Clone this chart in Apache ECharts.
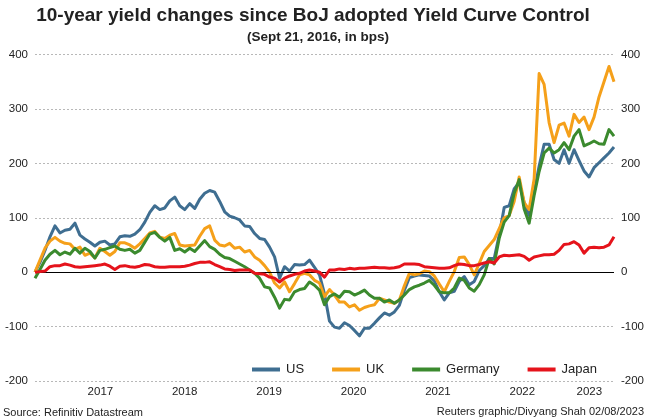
<!DOCTYPE html>
<html>
<head>
<meta charset="utf-8">
<script src="https://cdn.jsdelivr.net/npm/echarts@6/dist/echarts.min.js"></script>
<style>
html,body{margin:0;padding:0;background:#fff;}
#chart{width:649px;height:420px;}
</style>
</head>
<body>
<div id="chart"></div>
<script>
// ---- data (change in bps since Sept 21, 2016), evenly spaced from 2016-09-21 to 2023-08-02 ----
const startDate = '2016-09-21';
const endDate = '2023-08-02';

const us = [0,18,40,65,85,72,77,79,90,68,
  61,55,48,55,57,50,52,65,67,66,
  70,78,92,110,122,115,118,131,138,122,
  115,126,117,134,145,150,147,130,111,103,
  100,96,85,84,71,62,60,46,28,-11,
  10,2,14,13,14,22,9,-5,-40,-90,
  -101,-103,-93,-98,-107,-117,-103,-103,-94,-84,
  -75,-79,-73,-61,-33,-10,-7,-5,-6,-7,
  -16,-36,-51,-38,-35,-17,-8,-23,-17,3,
  12,25,25,68,119,122,153,165,128,104,
  147,195,235,235,207,200,225,200,225,205,
  186,175,192,201,210,219,230];

const uk = [0,22,44,57,64,57,53,52,42,46,
  31,35,26,44,38,31,38,54,54,50,
  44,52,62,72,75,64,62,68,71,50,
  48,49,50,66,80,85,59,50,48,53,
  44,46,37,40,28,22,12,0,-20,-29,
  -18,-36,-21,-5,-2,-5,-15,-20,-45,-32,
  -42,-55,-55,-64,-60,-70,-65,-62,-60,-48,
  -51,-55,-57,-51,-25,-2,-5,-3,2,1,
  -7,-22,-36,-17,1,27,28,14,-5,16,
  38,49,60,80,100,104,130,175,128,115,
  171,365,345,275,238,270,274,250,290,275,
  285,262,285,322,350,378,350];

const germany = [-11,5,22,33,40,32,37,33,44,35,
  44,38,26,40,42,45,48,42,40,42,
  35,40,55,70,73,64,57,64,40,43,
  37,44,38,48,58,47,42,33,27,25,
  20,15,10,4,-2,-11,-27,-29,-46,-66,
  -50,-51,-36,-32,-30,-18,-24,-33,-60,-45,
  -40,-46,-35,-36,-42,-38,-33,-42,-48,-48,
  -55,-51,-57,-51,-42,-32,-27,-24,-20,-15,
  -24,-36,-38,-38,-29,-11,-15,-29,-35,-23,
  -5,25,15,62,92,104,145,170,116,90,
  141,185,219,228,219,225,238,225,250,262,
  232,236,241,236,235,262,250];

const japan = [0,1,2,10,12,12,15,13,10,9,
  10,11,12,13,15,11,5,11,12,10,
  9,11,14,13,10,9,9,10,10,10,
  11,13,16,18,18,19,14,10,6,5,
  3,4,4,4,-2,-3,-4,-9,-11,-18,
  -11,-7,-4,-2,2,4,2,0,-9,4,
  4,6,5,7,6,7,7,8,9,8,
  8,7,8,10,15,15,15,14,10,9,
  8,7,7,8,12,15,14,12,12,14,
  17,19,17,28,31,30,31,32,29,22,
  28,30,32,32,33,40,51,52,56,50,
  35,45,46,45,46,50,65];

// x-axis year labels and where they sit (centre of each year's span)
const yearLabels = ['2017','2018','2019','2020','2021','2022','2023'];
const yearLabelDates = ['2017-07-01','2018-07-01','2019-07-01','2020-07-01','2021-07-01','2022-07-01','2023-04-17'];
const yTicks = {min: -200, max: 400, step: 100};

const seriesNames = ['US','UK','Germany','Japan'];
const seriesColors = ['#3f6e91','#f5a01a','#3b8a2e','#e5131b'];

// ---- build ----
const t0 = Date.parse(startDate + 'T00:00:00Z');
const t1 = Date.parse(endDate + 'T00:00:00Z');
const n = us.length;
const times = us.map((_, i) => t0 + (t1 - t0) * i / (n - 1));
const pair = arr => arr.map((v, i) => [times[i], v]);
const labelTimes = yearLabelDates.map(d => Date.parse(d + 'T00:00:00Z'));

const chart = echarts.init(document.getElementById('chart'), null, {renderer: 'canvas'});
const FONT = 'Liberation Sans, Arial, sans-serif';

const allData = [us, uk, germany, japan];
const series = allData.map((arr, k) => ({
  name: seriesNames[k],
  type: 'line',
  data: pair(arr),
  showSymbol: false,
  symbol: 'none',
  lineStyle: {width: 3, color: seriesColors[k], join: 'round'},
  itemStyle: {color: seriesColors[k]},
  z: 2 + k,
  silent: true,
  animation: false
}));
series[0].markLine = {
  silent: true, symbol: 'none', animation: false,
  label: {show: false},
  lineStyle: {color: '#000', width: 1.2, type: 'solid'},
  data: [{yAxis: 0}]
};

const yAxisBase = (pos) => ({
  type: 'value', position: pos,
  min: yTicks.min, max: yTicks.max, interval: yTicks.step,
  axisLine: {show: false}, axisTick: {show: false},
  axisLabel: {color: '#222', fontFamily: FONT, fontSize: 11.5, margin: 7},
  splitLine: {show: pos === 'left', lineStyle: {color: '#b8b8b8', type: [2, 2], width: 1}}
});

chart.setOption({
  backgroundColor: '#fff',
  animation: false,
  title: [
    {text: '10-year yield changes since BoJ adopted Yield Curve Control', left: 313, top: 6, textAlign: 'center', padding: 0,
     textStyle: {fontFamily: FONT, fontSize: 19, fontWeight: 'bold', color: '#222'}},
    {text: '(Sept 21, 2016, in bps)', left: 318, top: 30, textAlign: 'center', padding: 0,
     textStyle: {fontFamily: FONT, fontSize: 13.5, fontWeight: 'bold', color: '#222'}},
    {text: 'Source: Refinitiv Datastream', left: 3, top: 407, padding: 0,
     textStyle: {fontFamily: FONT, fontSize: 11, fontWeight: 'normal', color: '#222'}},
    {text: 'Reuters graphic/Divyang Shah 02/08/2023', right: 5, top: 406, padding: 0,
     textStyle: {fontFamily: FONT, fontSize: 11, fontWeight: 'normal', color: '#222'}}
  ],
  legend: {
    left: 247, top: 358,
    itemWidth: 28, itemHeight: 4, itemGap: 28,
    icon: 'rect',
    textStyle: {fontFamily: FONT, fontSize: 13, color: '#222', padding: [0, 0, 0, 1]},
    data: seriesNames
  },
  grid: {left: 35, right: 35, top: 54.5, bottom: 39, containLabel: false},
  xAxis: {
    type: 'value', min: t0, max: t1, scale: true,
    axisLine: {show: false}, axisTick: {show: false}, splitLine: {show: false},
    axisLabel: {
      customValues: labelTimes,
      color: '#222', fontFamily: FONT, fontSize: 11.5, margin: 5,
      formatter: (v) => {
        let best = 0, bd = Infinity;
        labelTimes.forEach((t, i) => { const d = Math.abs(t - v); if (d < bd) { bd = d; best = i; } });
        return yearLabels[best];
      }
    }
  },
  yAxis: [yAxisBase('left'), yAxisBase('right')],
  series: series
});
</script>
</body>
</html>
